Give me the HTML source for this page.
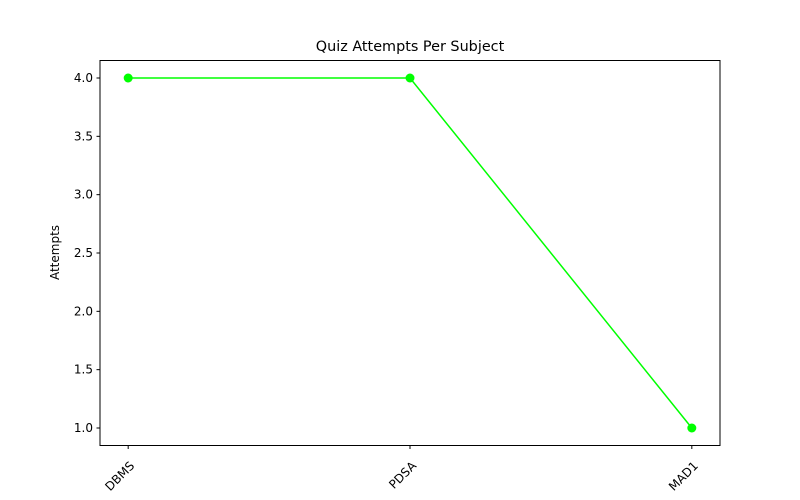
<!DOCTYPE html>
<html><head><meta charset="utf-8"><style>body{margin:0;background:#fff}svg{display:block;font-family:"DejaVu Sans","Liberation Sans",sans-serif}</style></head>
<body>
<svg width="800" height="500" viewBox="0 0 800 500">
<rect width="800" height="500" fill="#fff"/>
<text x="410" y="51" font-size="14.4" text-anchor="middle">Quiz Attempts Per Subject</text>
<text transform="translate(59,252.5) rotate(-90)" font-size="12" text-anchor="middle">Attempts</text>
<text x="410" y="510" font-size="12" text-anchor="middle">Subject</text>
<g id="g"></g>
<rect x="100" y="60.5" width="620" height="385" fill="none" stroke="#000" stroke-width="1"/>
</svg>
<script>
const categories=["DBMS","PDSA","MAD1"];
const attempts=[4,4,1];
const yTicks=[1.0,1.5,2.0,2.5,3.0,3.5,4.0];
const L=100,R=720,T=60.5,B=445.5;
const xs=i=>L+(i+0.1)/2.2*(R-L);
const ys=v=>B-(v-0.85)/3.3*(B-T);
const g=document.getElementById('g');
const NS='http://www.w3.org/2000/svg';
function mk(t,a){const e=document.createElementNS(NS,t);for(const k in a)e.setAttribute(k,a[k]);g.appendChild(e);return e;}
yTicks.forEach(v=>{const y=ys(v);
const t=mk('line',{x1:L-3.5,x2:L,y1:y,y2:y,stroke:'#000'});


const l=mk('text',{x:L-7,y:y+4,'font-size':12,'text-anchor':'end'});l.textContent=v.toFixed(1);

});
categories.forEach((c,i)=>{const x=xs(i);
const t=mk('line',{x1:x,x2:x,y1:B,y2:B+3.5,stroke:'#000'});


const l=mk('text',{x:0,y:0,'font-size':12,'text-anchor':'end',transform:`translate(${x+7},${B+21}) rotate(-45)`});l.textContent=c;

});
const pl=mk('polyline',{points:attempts.map((v,i)=>xs(i)+','+ys(v)).join(' '),fill:'none',stroke:'#00ff00','stroke-width':1.5});


attempts.forEach((v,i)=>{const p=mk('circle',{cx:xs(i),cy:ys(v),r:4.5,fill:'#00ff00'});

});
</script>
</body></html>
